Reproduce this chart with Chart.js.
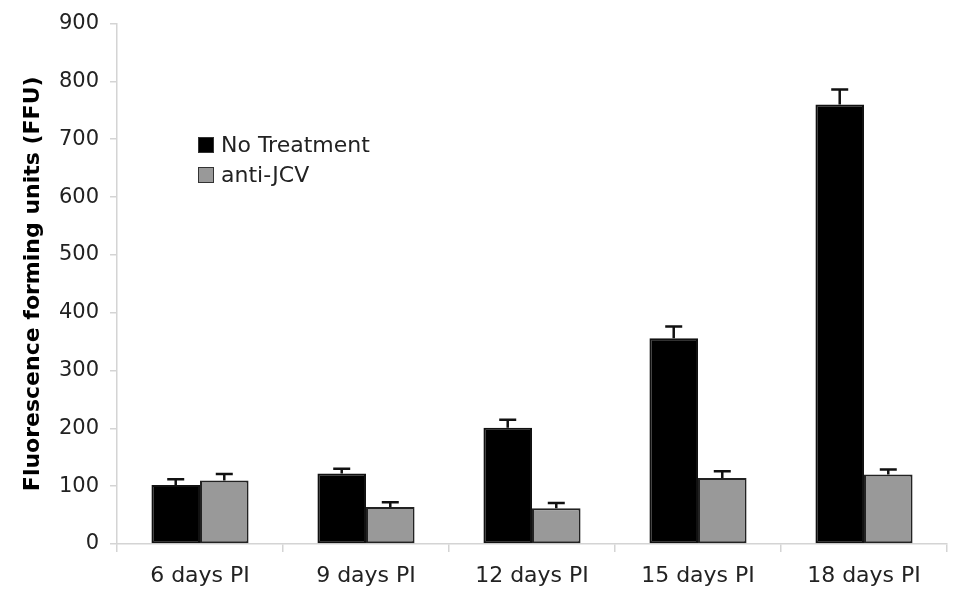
<!DOCTYPE html>
<html>
<head>
<meta charset="utf-8">
<script src="https://cdn.jsdelivr.net/npm/chart.js@4.4.1/dist/chart.umd.min.js"></script>
<style>
  html, body { margin: 0; padding: 0; background: #fff; }
  #wrap { width: 967px; height: 612px; position: relative; }
</style>
</head>
<body>
<div id="wrap"><canvas id="chart"></canvas></div>
<script>
const categories = ["6 days PI", "9 days PI", "12 days PI", "15 days PI", "18 days PI"];
const noTreatment = [102, 122, 201, 356, 760];
const noTreatmentErr = [10, 8, 14, 20, 26];
const antiJCV = [110, 64, 62, 114, 120];
const antiJCVErr = [11, 8, 9, 12, 9];
const yTicks = [0, 100, 200, 300, 400, 500, 600, 700, 800, 900];

const FONT = "'DejaVu Sans', Verdana, sans-serif";

// upward error bars drawn through the library's scales
const errorBars = {
  id: "errorBars",
  afterDatasetsDraw(chart) {
    const ctx = chart.ctx;
    const y = chart.scales.y;
    chart.data.datasets.forEach((ds, i) => {
      const meta = chart.getDatasetMeta(i);
      meta.data.forEach((bar, j) => {
        const top = y.getPixelForValue(ds.data[j] + ds.errors[j]);
        const base = y.getPixelForValue(ds.data[j]);
        ctx.save();
        ctx.strokeStyle = "#111";
        ctx.lineWidth = 2.5;
        ctx.beginPath();
        ctx.moveTo(bar.x, base);
        ctx.lineTo(bar.x, top);
        ctx.moveTo(bar.x - 8.5, top);
        ctx.lineTo(bar.x + 8.5, top);
        ctx.stroke();
        ctx.restore();
      });
    });
  }
};

// legend inside the plot, upper left
const insideLegend = {
  id: "insideLegend",
  afterDraw(chart) {
    const ctx = chart.ctx;
    const x0 = 198, y0 = 145, rowH = 30, box = 16;
    ctx.save();
    ctx.font = "22px " + FONT;
    ctx.textBaseline = "middle";
    chart.data.datasets.forEach((ds, i) => {
      const yy = y0 + i * rowH;
      ctx.fillStyle = ds.backgroundColor;
      ctx.fillRect(x0, yy - box / 2, box, box);
      ctx.strokeStyle = "#333";
      ctx.lineWidth = 1;
      ctx.strokeRect(x0 + 0.5, yy - box / 2 + 0.5, box - 1, box - 1);
      ctx.fillStyle = "#222";
      ctx.fillText(ds.label, x0 + box + 7, yy + 1);
    });
    ctx.restore();
  }
};

new Chart(document.getElementById("chart").getContext("2d"), {
  type: "bar",
  data: {
    labels: categories,
    datasets: [
      {
        label: "No Treatment",
        data: noTreatment,
        errors: noTreatmentErr,
        backgroundColor: "#000000",
        borderColor: "#111111",
        borderWidth: 2,
        borderSkipped: false,
      },
      {
        label: "anti-JCV",
        data: antiJCV,
        errors: antiJCVErr,
        backgroundColor: "#999999",
        borderColor: "#222222",
        borderWidth: 2,
        borderSkipped: false,
      },
    ],
  },
  options: {
    responsive: true,
    maintainAspectRatio: false,
    animation: false,
    layout: { padding: { top: 22, right: 20, left: 0, bottom: 0 } },
    categoryPercentage: 0.585,
    barPercentage: 1.0,
    plugins: {
      legend: { display: false },
      tooltip: { enabled: false },
    },
    scales: {
      x: {
        offset: true,
        grid: {
          offset: true,
          drawOnChartArea: false,
          color: "#d4d4d4",
          tickLength: 8,
          lineWidth: 1.5,
        },
        border: { color: "#d4d4d4", width: 1.5 },
        ticks: {
          color: "#222",
          font: { family: FONT, size: 22 },
          padding: 11,
        },
        afterFit(scale) { scale.height = 68; },
      },
      y: {
        min: 0,
        max: 900,
        afterBuildTicks(scale) { scale.ticks = yTicks.map((v) => ({ value: v })); },
        grid: {
          drawOnChartArea: false,
          color: "#d4d4d4",
          tickLength: 7,
          lineWidth: 1.5,
        },
        border: { color: "#d4d4d4", width: 1.5 },
        ticks: {
          color: "#222",
          font: { family: FONT, size: 21 },
          padding: 11,
        },
        title: {
          display: true,
          text: "Fluorescence forming units (FFU)",
          color: "#000",
          font: { family: FONT, size: 22, weight: "bold" },
          padding: { top: 20, bottom: 4 },
        },
        afterFit(scale) { scale.width = 117; },
      },
    },
  },
  plugins: [errorBars, insideLegend],
});
</script>
</body>
</html>
